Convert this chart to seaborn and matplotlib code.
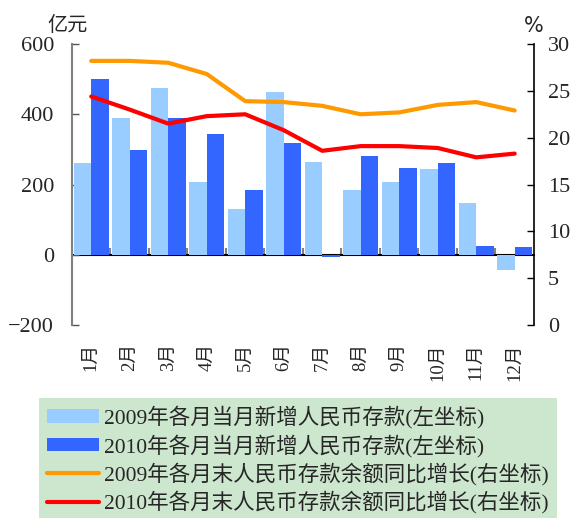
import numpy as np
import pandas as pd
import matplotlib
matplotlib.use("Agg")
import matplotlib.pyplot as plt
import seaborn as sns
from matplotlib.patches import Patch
from matplotlib.lines import Line2D

# ==========================================================
# DATA
# ==========================================================
months = ["1月", "2月", "3月", "4月", "5月", "6月",
          "7月", "8月", "9月", "10月", "11月", "12月"]
new_dep_2009 = [260, 388, 476, 206, 129, 464, 265, 183, 206, 243, 146, -44]
new_dep_2010 = [501, 297, 388, 345, 183, 319, -7, 280, 248, 260, 26, 21]
growth_2009 = [28.2, 28.2, 28.0, 26.8, 23.9, 23.8, 23.4, 22.5, 22.7, 23.5, 23.8, 22.9]
growth_2010 = [24.4, 23.0, 21.5, 22.3, 22.5, 20.8, 18.6, 19.1, 19.1, 18.9, 17.9, 18.3]

left_ticks = [-200, 0, 200, 400, 600]
right_ticks = [0, 5, 10, 15, 20, 25, 30]

lab_bar09 = "2009年各月当月新增人民币存款(左坐标)"
lab_bar10 = "2010年各月当月新增人民币存款(左坐标)"
lab_line09 = "2009年各月末人民币存款余额同比增长(右坐标)"
lab_line10 = "2010年各月末人民币存款余额同比增长(右坐标)"

C_LIGHT = "#99CCFF"
C_DARK = "#3366FF"
C_ORANGE = "#FF9900"
C_RED = "#FF0000"

bars = pd.DataFrame({
    "month": months * 2,
    "value": new_dep_2009 + new_dep_2010,
    "series": ["2009"] * 12 + ["2010"] * 12,
})
lines = pd.DataFrame({
    "pos": list(range(12)) * 2,
    "value": growth_2009 + growth_2010,
    "series": ["2009"] * 12 + ["2010"] * 12,
})

# ==========================================================
# STYLE
# ==========================================================
sns.set_style("white")
plt.rcParams["font.family"] = ["Liberation Serif", "Noto Sans CJK SC"]
plt.rcParams["axes.unicode_minus"] = True

fig = plt.figure(figsize=(5.74, 5.18), dpi=100)
ax = fig.add_axes([0.1254, 0.3726, 0.8048, 0.5424])

sns.barplot(data=bars, x="month", y="value", hue="series",
            palette={"2009": C_LIGHT, "2010": C_DARK},
            width=0.9, linewidth=0, saturation=1, legend=False, ax=ax)
ax.set_xlim(-0.5, 11.5)
ax.set_ylim(-200, 600)
ax.set_yticks(left_ticks)
ax.set_xlabel("")
ax.set_ylabel("")
ax.tick_params(axis="y", direction="in", length=5, width=1, color="#555555",
               labelsize=16, pad=13)
ax.tick_params(axis="x", length=0, labelsize=13.5, labelrotation=90, pad=13)
for s in ["top", "bottom", "right"]:
    ax.spines[s].set_visible(False)
ax.spines["left"].set_color("#808080")
ax.spines["left"].set_linewidth(1.5)

# zero line with category-boundary ticks
zero_ax = ax.secondary_xaxis(0.25)
zero_ax.set_xticks(np.arange(0.5, 11.5, 1.0))
zero_ax.set_xticklabels([])
zero_ax.tick_params(direction="in", length=5, width=1.5, color="#808080")
zero_ax.spines["bottom"].set_linewidth(1.5)
zero_ax.spines["bottom"].set_color("black")

# right axis lines
ax2 = ax.twinx()
sns.lineplot(data=lines, x="pos", y="value", hue="series",
             palette={"2009": C_ORANGE, "2010": C_RED},
             linewidth=3, legend=False, ax=ax2)
ax2.set_ylim(0, 30)
ax2.set_yticks(right_ticks)
ax2.set_ylabel("")
ax2.set_xlabel("")
ax2.tick_params(axis="y", direction="in", length=5, width=1, color="black",
                labelsize=16, pad=10)
for s in ["top", "bottom", "left"]:
    ax2.spines[s].set_visible(False)
ax2.spines["right"].set_color("black")
ax2.spines["right"].set_linewidth(1.2)
ax.set_xlim(-0.5, 11.5)

ax.text(-0.009, 1.03, "亿元", transform=ax.transAxes, ha="center", va="bottom",
        fontsize=14.5)
ax2.text(1.0, 1.03, "%", transform=ax2.transAxes, ha="center", va="bottom",
         fontsize=15, family="DejaVu Sans")

handles = [
    Patch(facecolor=C_LIGHT, edgecolor="none", label=lab_bar09),
    Patch(facecolor=C_DARK, edgecolor="none", label=lab_bar10),
    Line2D([0], [0], color=C_ORANGE, lw=3, label=lab_line09),
    Line2D([0], [0], color=C_RED, lw=3, label=lab_line10),
]
leg = fig.legend(handles=handles, loc="upper left",
                 bbox_to_anchor=(0.068, 0.232), fontsize=15.5,
                 handlelength=2.42, handleheight=0.6, handletextpad=0.23,
                 labelspacing=0.25, borderpad=0.37, borderaxespad=0,
                 frameon=True, fancybox=False)
leg.get_frame().set_facecolor("#CDE6CE")
leg.get_frame().set_edgecolor("none")
leg.get_frame().set_alpha(1)

fig.savefig("out.png", dpi=100)
